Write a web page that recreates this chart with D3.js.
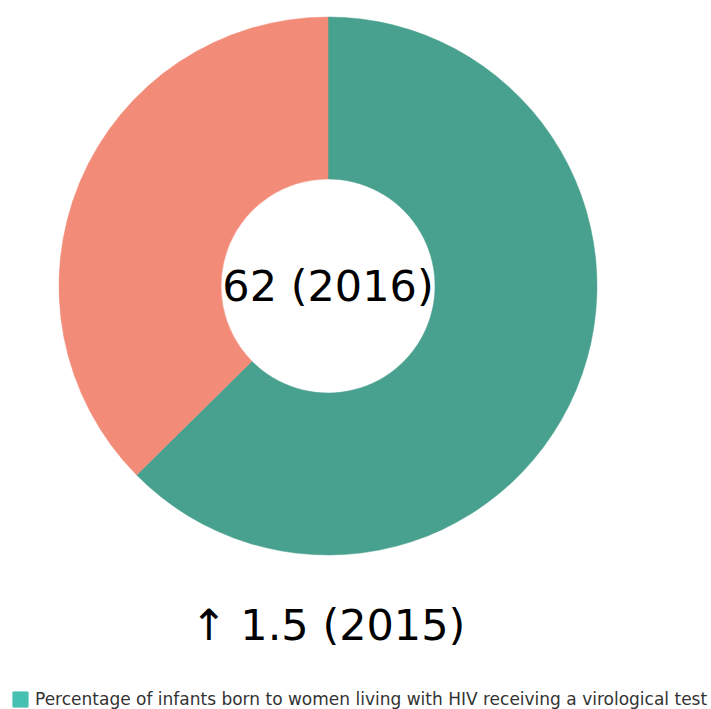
<!DOCTYPE html>
<html>
<head>
<meta charset="utf-8">
<script src="https://cdn.jsdelivr.net/npm/d3@7"></script>
<style>
  body { margin: 0; background: #fff; }
  text { font-family: "DejaVu Sans", sans-serif; }
</style>
</head>
<body>
<div id="chart"></div>
<script>
// values
var categories = ["Tested", "Not tested"];
var values = [62.6, 37.4];
var sliceColors = ["#48a08f", "#f28b78"];
var centerLabel = "62 (2016)";
var changeLabel = "\u2191 1.5 (2015)";
var legendLabel = "Percentage of infants born to women living with HIV receiving a virological test";
var legendColor = "#45c1b1";

var width = 711, height = 709;
var cx = 328, cy = 286,   // donut centre
    outerR = 269, innerR = 107;

var svg = d3.select("#chart").append("svg")
    .attr("width", width)
    .attr("height", height);

var pie = d3.pie().sort(null).value(function(d) { return d; });
var arc = d3.arc().innerRadius(innerR).outerRadius(outerR);

var g = svg.append("g").attr("transform", "translate(" + cx + "," + cy + ")");

g.selectAll("path")
    .data(pie(values))
    .enter().append("path")
    .attr("d", arc)
    .attr("fill", function(d, i) { return sliceColors[i]; })
    .attr("stroke", function(d, i) { return sliceColors[i]; })
    .attr("stroke-width", 0.5);

g.append("text")   //big number in the hole
    .attr("text-anchor", "middle")
    .attr("y", 15)
    .attr("font-size", 43)
    .attr("fill", "#000")
    .text(centerLabel);

svg.append("text")
    .attr("x", cx)
    .attr("y", 640)
    .attr("text-anchor", "middle")
    .attr("font-size", 43)
    .attr("fill", "#000")
    .text(changeLabel);

// legend
svg.append("rect")
    .attr("x", 12.5).attr("y", 691.5)
    .attr("width", 16).attr("height", 16)
    .attr("rx", 1.5)
    .attr("fill", legendColor)
    .attr("stroke", "#8fd9cf")
    .attr("stroke-width", 1);

svg.append("text")
    .attr("x", 35).attr("y", 705)
    .attr("font-size", 17)
    .attr("fill", "#333")
    .text(legendLabel);
</script>
</body>
</html>
